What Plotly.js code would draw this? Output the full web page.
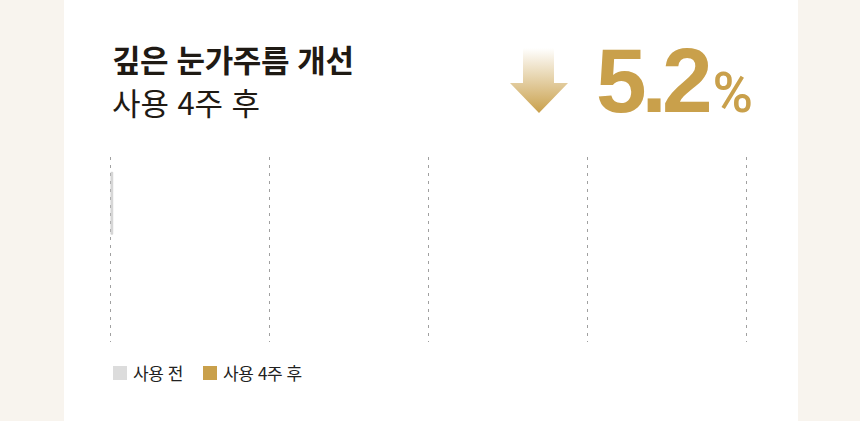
<!DOCTYPE html>
<html lang="ko">
<head>
<meta charset="utf-8">
<script src="https://cdn.plot.ly/plotly-3.0.1.min.js"></script>
<style>
  html, body { margin: 0; padding: 0; }
  body { width: 860px; height: 421px; background: #f8f4ee; position: relative; overflow: hidden;
         font-family: "Noto Sans CJK KR", "Noto Sans", sans-serif; color: #1f1a14; }
  .card { position: absolute; left: 64px; top: 0; width: 734px; height: 421px; background: #fff; }
  .t1, .t2 { position: absolute; left: 112px; font-size: 31px; line-height: 37px; letter-spacing: -0.4px; white-space: nowrap; }
  .t1 { top: 40px; font-weight: 700; }
  .t2 { top: 83px; font-weight: 400; letter-spacing: -0.1px; }
  .arrow { position: absolute; left: 510px; top: 48px; }
  .big { position: absolute; left: 596px; top: 29px; color: #c9a04b; font-family: "Liberation Sans", Arial, sans-serif;
         font-weight: 700; white-space: nowrap; }
  .big .num { font-size: 91px; letter-spacing: -5px; }
  .big .pct { font-family: Roboto, "Liberation Sans", sans-serif; font-size: 55px; margin-left: 5px; font-weight: 500; }
  #chart { position: absolute; left: 0; top: 0; width: 860px; height: 421px; }
  .legend { position: absolute; left: 113px; top: 362px; display: flex; font-size: 17px; line-height: 22px; color: #222; letter-spacing: -0.4px; }
  .legend .item { display: flex; align-items: center; margin-right: 20px; }
  .legend .sw { width: 14px; height: 14px; margin-right: 6px; }
</style>
</head>
<body>
<div class="card"></div>
<div id="chart"></div>
<div class="t1">깊은 눈가주름 개선</div>
<div class="t2">사용 4주 후</div>
<svg class="arrow" width="58" height="66" viewBox="0 0 58 66">
  <defs>
    <linearGradient id="ag" x1="0" y1="0" x2="0" y2="1">
      <stop offset="0" stop-color="#c9a04b" stop-opacity="0"/>
      <stop offset="1" stop-color="#c9a04b" stop-opacity="1"/>
    </linearGradient>
  </defs>
  <path d="M13,0 H44 V35 H58 L29,65 L0,35 H13 Z" fill="url(#ag)"/>
</svg>
<div class="big"><span class="num">5.2</span><span class="pct">%</span></div>
<div class="legend" id="legend"></div>
<script>
// series (bars are caught at the start of their grow animation)
const categories = ['사용 전', '사용 4주 후'];
const values = [0.3, 0];
const colors = ['#dcdcdc', '#c9a04b'];
const tickVals = [0, 25, 50, 75, 100];

const traces = categories.map((c, i) => ({
    type: 'bar', orientation: 'h', name: c,
    y: [c], x: [values[i]],
    marker: { color: colors[i], line: { color: '#c8c8c8', width: values[i] > 0 ? 0.6 : 0 } },
    hoverinfo: 'skip'
}));

const layout = {
    width: 860, height: 421,
    margin: { l: 109, r: 112, t: 157, b: 79 },
    paper_bgcolor: 'rgba(0,0,0,0)', plot_bgcolor: 'rgba(0,0,0,0)',
    barmode: 'overlay', bargap: 0.33,
    showlegend: false,
    xaxis: { range: [-0.3, 100.3], tickvals: tickVals, showticklabels: false, zeroline: false,
             showgrid: true, gridcolor: '#a0a0a0', gridwidth: 1, griddash: '3px,5px', fixedrange: true },
    yaxis: { type: 'category', categoryarray: categories, autorange: 'reversed',
             showticklabels: false, showgrid: false, zeroline: false, fixedrange: true }
};

Plotly.newPlot('chart', traces, layout, { staticPlot: true, displayModeBar: false });

// legend
const lg = document.getElementById('legend');
categories.forEach((c, i) => {
    const it = document.createElement('div');
    it.className = 'item';
    it.innerHTML = `<div class="sw" style="background:${colors[i]}"></div><div>${c}</div>`;
    lg.appendChild(it);
});
</script>
</body>
</html>
